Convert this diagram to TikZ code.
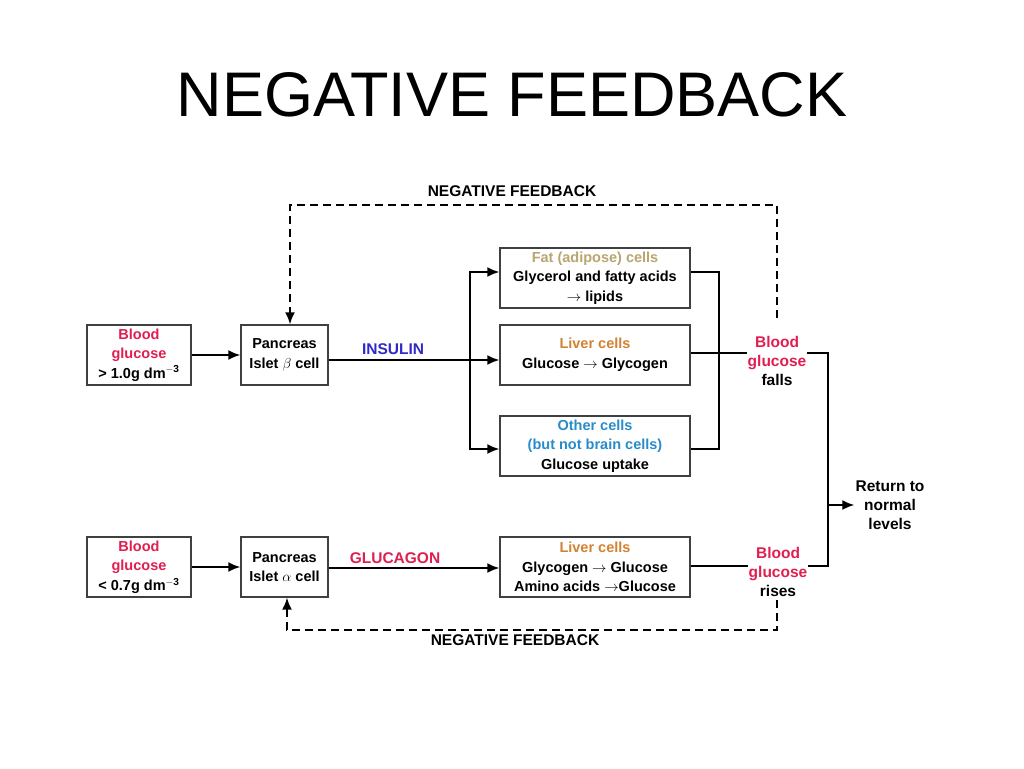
\documentclass[tikz,border=0pt]{standalone}
\usepackage{fontspec}
\setmainfont{Liberation Sans}
\usetikzlibrary{arrows.meta}
\definecolor{pinkred}{RGB}{225,30,80}
\definecolor{tan}{RGB}{185,165,110}
\definecolor{orangec}{RGB}{210,130,50}
\definecolor{cyanc}{RGB}{40,140,200}
\definecolor{insblue}{RGB}{50,40,200}
\begin{document}
\begin{tikzpicture}[x=1pt,y=-1pt,
 box/.style={draw=black!75,line width=1.3pt,fill=white,align=center,font=\bfseries\fontsize{14.5}{19.5}\selectfont,inner sep=1pt},
 txt/.style={align=center,font=\bfseries\fontsize{15.5}{19}\selectfont,inner sep=1pt},
 ln/.style={line width=2pt},
 arr/.style={ln,-{Latex[length=12pt,width=10pt]}},
 dsh/.style={ln,dash pattern=on 8pt off 5pt}]
\useasboundingbox (0,0) rectangle (1024,768);
\node[font=\fontsize{63}{70}\selectfont] (title) at (512,95) {NEGATIVE FEEDBACK};
% top row
\node[box,minimum width=104pt,minimum height=60pt] (b1) at (139,355) {\textcolor{pinkred}{Blood}\\\textcolor{pinkred}{glucose}\\> 1.0g dm$^{\mathbf{-3}}$};
\node[box,minimum width=87pt,minimum height=60pt] (p1) at (284.5,355) {Pancreas\\Islet $\beta$ cell};
\node[box,minimum width=190pt,minimum height=60pt] (fat) at (595,278) {\textcolor{tan}{Fat (adipose) cells}\\Glycerol and fatty acids\\$\rightarrow$ lipids};
\node[box,minimum width=190pt,minimum height=60pt] (liv1) at (595,355) {\textcolor{orangec}{Liver cells}\\Glucose $\rightarrow$ Glycogen};
\node[box,minimum width=190pt,minimum height=60pt] (oth) at (595,446) {\textcolor{cyanc}{Other cells}\\\textcolor{cyanc}{(but not brain cells)}\\Glucose uptake};
\node[txt] (falls) at (777,361) {\textcolor{pinkred}{Blood}\\\textcolor{pinkred}{glucose}\\falls};
\node[txt,text=insblue] (ins) at (393,349) {INSULIN};
\coordinate (br) at (470,360);
\draw[arr] (b1) -- (p1);
\draw[ln] (p1.east |- br) -- (br);
\draw[arr] (br) -- (liv1.west |- br);
\draw[arr] (br) |- (fat.west |- 0,272);
\draw[arr] (br) |- (oth.west |- 0,449);
\draw[ln] (fat.east |- 0,272) -| (719,449) -- (oth.east |- 0,449);
\draw[ln] (liv1.east |- 0,353) -- (falls.west |- 0,353);
% bottom row
\node[box,minimum width=104pt,minimum height=60pt] (b2) at (139,567) {\textcolor{pinkred}{Blood}\\\textcolor{pinkred}{glucose}\\< 0.7g dm$^{\mathbf{-3}}$};
\node[box,minimum width=87pt,minimum height=60pt] (p2) at (284.5,567) {Pancreas\\Islet $\alpha$ cell};
\node[box,minimum width=190pt,minimum height=60pt] (liv2) at (595,567) {\textcolor{orangec}{Liver cells}\\Glycogen $\rightarrow$ Glucose\\Amino acids $\rightarrow$Glucose};
\node[txt] (rises) at (778,572) {\textcolor{pinkred}{Blood}\\\textcolor{pinkred}{glucose}\\rises};
\node[txt,text=pinkred] (glu) at (395,558) {GLUCAGON};
\draw[arr] (b2) -- (p2);
\draw[arr] (p2.east |- 0,568) -- (liv2.west |- 0,568);
\draw[ln] (liv2.east |- 0,566) -- (rises.west |- 0,566);
% merge
\node[txt] (ret) at (890,505) {Return to\\normal\\levels};
\draw[ln] (falls.east |- 0,353) -| (828,566) -- (rises.east |- 0,566);
\draw[arr] (828,505) -- (ret.west);
% feedback
\node[txt] (fb1) at (512,191) {NEGATIVE FEEDBACK};
\node[txt] (fb2) at (515,640) {NEGATIVE FEEDBACK};
\draw[dsh,-{Latex[length=12pt,width=10pt]}] (777,318) |- (290,205) -- (p1.north -| 290,0);
\draw[dsh,-{Latex[length=12pt,width=10pt]}] (777,600) |- (287,630) -- (p2.south -| 287,0);
\end{tikzpicture}
\end{document}
